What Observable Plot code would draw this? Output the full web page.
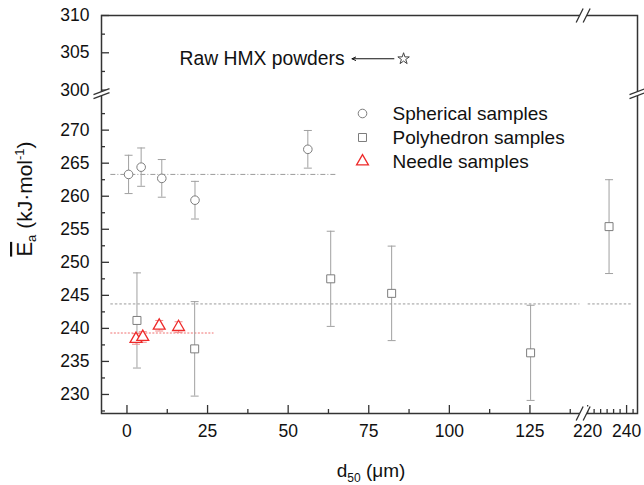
<!DOCTYPE html>
<html><head><meta charset="utf-8">
<script src="https://cdn.jsdelivr.net/npm/d3@7"></script>
<script src="https://cdn.jsdelivr.net/npm/@observablehq/plot@0.6"></script>
<style>body{margin:0;background:#fff} svg{display:block}</style>
</head><body><div id="chart"></div>
<script>
// ---------- data ----------
const seriesNames = ["Spherical samples", "Polyhedron samples", "Needle samples"];
const sphericalD50 = [0.5, 4.4, 10.8, 21.1, 56.1];
const sphericalEa  = [263.3, 264.4, 262.7, 259.4, 267.1];
const sphericalErr = [2.9, 2.9, 2.85, 2.85, 2.85];
const polyD50 = [3.1, 21.0, 63.2, 82.1, 125.2, 231.0];
const polyEa  = [241.2, 236.9, 247.5, 245.3, 236.3, 255.4];
const polyErr = [7.2, 7.15, 7.2, 7.15, 7.2, 7.1];
const needleD50 = [2.8, 4.9, 10.0, 16.0];
const needleEa  = [238.4, 238.7, 240.4, 240.2];
const needleErr = [0.8, 0.8, 0.8, 0.8];
const rawD50 = [85.8];
const rawEa  = [304.2];
const rawLabel = "Raw HMX powders";
// mean lines: series, value, from, to
const meanSeries = ["Spherical samples", "Polyhedron samples", "Polyhedron samples", "Needle samples"];
const meanEa   = [263.3, 243.7, 243.7, 239.3];
const meanFrom = [-5, -5, 220.3, -5];
const meanTo   = [65, 140.5, 242.5, 27];
const xTicksMajor = [0, 25, 50, 75, 100, 125, 220, 240];
const xTicksMinor = [12.5, 37.5, 62.5, 87.5, 112.5, 137.5, 223.33, 226.67, 230, 233.33, 236.67, 243.33];
const yTicksMajor = [230, 235, 240, 245, 250, 255, 260, 265, 270, 300, 305, 310];
const yTicksMinor = [227.5, 232.5, 237.5, 242.5, 247.5, 252.5, 257.5, 262.5, 267.5, 272.5, 302.5, 307.5];

// ---------- broken axes ----------
const X_BREAK = [141.5, 217.7], X_RATIO = 1.95 / 3.227;
const vx = v => v <= X_BREAK[0] ? v : X_BREAK[0] + (Math.max(v, X_BREAK[1]) - X_BREAK[1]) * X_RATIO;
const ivx = u => u <= X_BREAK[0] ? u : X_BREAK[1] + (u - X_BREAK[0]) / X_RATIO;
const Y_BREAK = [275, 300], Y_GAP = 1.06, Y_RATIO = 7.45 / 6.6;
const vy = v => v <= Y_BREAK[0] ? v : Y_BREAK[0] + Y_GAP + (v - Y_BREAK[1]) * Y_RATIO;
const ivy = u => u <= Y_BREAK[0] ? u : Y_BREAK[1] + (u - Y_BREAK[0] - Y_GAP) / Y_RATIO;

const mk = (name, xs, ys, es) => xs.map((d, i) => ({
  series: name, x: vx(d), y: vy(ys[i]), y1: vy(ys[i] - es[i]), y2: vy(ys[i] + es[i])
}));
const spherical = mk(seriesNames[0], sphericalD50, sphericalEa, sphericalErr);
const poly = mk(seriesNames[1], polyD50, polyEa, polyErr);
const needle = mk(seriesNames[2], needleD50, needleEa, needleErr);
const means = meanEa.map((v, i) => ({series: meanSeries[i], y: vy(v), x1: vx(meanFrom[i]), x2: vx(meanTo[i])}));
const raw = rawD50.map((d, i) => ({x: vx(d), y: vy(rawEa[i])}));

// ---------- custom symbols ----------
const capSym = {draw(c) { c.moveTo(-4, 0); c.lineTo(4, 0); }};
const slashHGap = {draw(c) { c.moveTo(-7, 7); c.lineTo(0, 7); c.lineTo(7, -7); c.lineTo(0, -7); c.closePath(); }};
const slashH = {draw(c) { c.moveTo(-7, 7); c.lineTo(0, -7); c.moveTo(0, 7); c.lineTo(7, -7); }};
const slashVGap = {draw(c) { c.moveTo(-8, 1); c.lineTo(8, -5); c.lineTo(8, -1); c.lineTo(-8, 5); c.closePath(); }};
const slashV = {draw(c) { c.moveTo(-8, 1); c.lineTo(8, -5); c.moveTo(-8, 5); c.lineTo(8, -1); }};

const W = 644, H = 485, mL = 101, mR = 7, mT = 15, mB = 72;
const fw = W - mL - mR, fh = H - mT - mB;
const frameCol = "#333";
const gray = "#7d7d7d", barGray = "#a0a0a0", red = "#ee2a2a", pink = "#f28a8a";
const colorOf = {"Spherical samples": gray, "Polyhedron samples": gray, "Needle samples": red};
const symOf = {"Spherical samples": "circle", "Polyhedron samples": "square", "Needle samples": "triangle"};
const rOf = {"Spherical samples": 4.3, "Polyhedron samples": 4.5, "Needle samples": 4.4};

const errMarks = (data, col) => [
  Plot.ruleX(data, {x: "x", y1: "y1", y2: "y2", stroke: col, strokeWidth: 1}),
  Plot.dot(data, {x: "x", y: "y1", symbol: capSym, r: 4, stroke: col, fill: "none", strokeWidth: 1}),
  Plot.dot(data, {x: "x", y: "y2", symbol: capSym, r: 4, stroke: col, fill: "none", strokeWidth: 1}),
];

const chart = Plot.plot({
  width: W, height: H,
  marginLeft: mL, marginRight: mR, marginTop: mT, marginBottom: mB,
  style: {fontFamily: "Liberation Sans, Arial, sans-serif", fontSize: "17px", color: "#222", background: "#fff"},
  x: {domain: [vx(-7.9), vx(245.6)]},
  y: {domain: [227.12, vy(310)]},
  marks: [
    // mean lines
    Plot.ruleY(means.filter(d => d.series === seriesNames[0]), {y: "y", x1: "x1", x2: "x2", stroke: "#9a9a9a", strokeWidth: 1, strokeDasharray: "5,2,1,2"}),
    Plot.ruleY(means.filter(d => d.series === seriesNames[1]), {y: "y", x1: "x1", x2: "x2", stroke: "#9a9a9a", strokeWidth: 1, strokeDasharray: "2.5,2"}),
    Plot.ruleY(means.filter(d => d.series === seriesNames[2]), {y: "y", x1: "x1", x2: "x2", stroke: "#f07070", strokeWidth: 1, strokeDasharray: "2,1.5"}),
    // error bars
    ...errMarks(spherical, barGray),
    ...errMarks(poly, barGray),
    ...errMarks(needle, pink),
    // points
    Plot.dot(spherical, {x: "x", y: "y", symbol: "circle", r: 4.3, stroke: gray, fill: "white", strokeWidth: 1}),
    Plot.dot(poly, {x: "x", y: "y", symbol: "square", r: 4.5, stroke: gray, fill: "white", strokeWidth: 1}),
    Plot.dot(needle, {x: "x", y: "y", symbol: "triangle", r: 4.4, stroke: red, fill: "white", strokeWidth: 1.3}),
    // raw HMX annotation
    Plot.dot(raw, {x: "x", y: "y", symbol: "star", r: 3.6, stroke: "#444", fill: "white", strokeWidth: 1}),
    Plot.arrow(raw, {x1: d => d.x - 3, x2: d => d.x - 16, y1: "y", y2: "y", stroke: "#111", strokeWidth: 1, headLength: 6, headAngle: 50}),
    Plot.text(raw, {x: d => d.x - 18.3, y: "y", text: () => rawLabel, textAnchor: "end", lineAnchor: "middle", fontSize: 19.3, fill: "#111"}),
    // ticks (inward)
    Plot.tickX(xTicksMajor, {x: vx, insetTop: fh - 8, stroke: frameCol, strokeWidth: 1.3}),
    Plot.tickX(xTicksMinor, {x: vx, insetTop: fh - 4, stroke: frameCol, strokeWidth: 1.3}),
    Plot.tickY(yTicksMajor, {y: vy, insetRight: fw - 8, stroke: frameCol, strokeWidth: 1.3}),
    Plot.tickY(yTicksMinor, {y: vy, insetRight: fw - 4, stroke: frameCol, strokeWidth: 1.3}),
    Plot.frame({stroke: frameCol, strokeWidth: 1.5}),
    // break marks
    Plot.dot([X_BREAK[0]], {x: d => d, frameAnchor: "bottom", symbol: slashHGap, fill: "white", stroke: "none", r: 5}),
    Plot.dot([X_BREAK[0]], {x: d => d, frameAnchor: "top", symbol: slashHGap, fill: "white", stroke: "none", r: 5}),
    Plot.dot([X_BREAK[0]], {x: d => d, frameAnchor: "bottom", symbol: slashH, fill: "none", stroke: frameCol, strokeWidth: 1.3, r: 5}),
    Plot.dot([X_BREAK[0]], {x: d => d, frameAnchor: "top", symbol: slashH, fill: "none", stroke: frameCol, strokeWidth: 1.3, r: 5}),
    Plot.dot([Y_BREAK[0] + Y_GAP / 2], {y: d => d, frameAnchor: "left", symbol: slashVGap, fill: "white", stroke: "none", r: 5}),
    Plot.dot([Y_BREAK[0] + Y_GAP / 2], {y: d => d, frameAnchor: "right", symbol: slashVGap, fill: "white", stroke: "none", r: 5}),
    Plot.dot([Y_BREAK[0] + Y_GAP / 2], {y: d => d, frameAnchor: "left", symbol: slashV, fill: "none", stroke: frameCol, strokeWidth: 1.3, r: 5}),
    Plot.dot([Y_BREAK[0] + Y_GAP / 2], {y: d => d, frameAnchor: "right", symbol: slashV, fill: "none", stroke: frameCol, strokeWidth: 1.3, r: 5}),
    // axes (labels only)
    Plot.axisX(xTicksMajor.map(vx), {tickSize: 0, tickPadding: 11, tickFormat: d => Math.round(ivx(d)), label: null, fill: "#111", fontSize: 17.5}),
    Plot.axisY(yTicksMajor.map(vy), {tickSize: 0, tickPadding: 12, tickFormat: d => Math.round(ivy(d)), label: null, fill: "#111", fontSize: 17.5}),
    // legend
    ...seriesNames.map((name, i) => Plot.dot([name], {frameAnchor: "top-left", dx: 261, dy: 98 + 24 * i, symbol: symOf[name], r: rOf[name], stroke: colorOf[name], fill: "white", strokeWidth: name === seriesNames[2] ? 1.3 : 1})),
    ...seriesNames.map((name, i) => Plot.text([name], {frameAnchor: "top-left", dx: 291, dy: 98 + 24 * i, text: d => d, textAnchor: "start", lineAnchor: "middle", fontSize: 19, fill: "#111"})),
  ]
});

const svg = d3.select(chart);
// make sure tick labels are large
svg.selectAll('g[aria-label*="axis"]').style("font-size", "17.5px");
svg.selectAll('g[aria-label*="axis"] text').style("font-size", "17.5px");
// x-axis title
const xt = svg.append("text").attr("x", 371).attr("y", 477).attr("text-anchor", "middle")
  .style("font-size", "19px").attr("fill", "#111");
xt.append("tspan").text("d");
xt.append("tspan").style("font-size", "12px").attr("dy", 5).text("50");
xt.append("tspan").attr("dy", -5).text(" (μm)");
// y-axis title
const yt = svg.append("text").attr("transform", "translate(32,199) rotate(-90)").attr("text-anchor", "middle")
  .style("font-size", "21px").attr("fill", "#111");
yt.append("tspan").attr("text-decoration", "overline").style("font-size", "22px").text("E");
yt.append("tspan").style("font-size", "13px").attr("dy", 4).text("a");
yt.append("tspan").attr("dy", -4).text(" (kJ·mol");
yt.append("tspan").style("font-size", "13px").attr("dy", -8).text("-1");
yt.append("tspan").attr("dy", 8).text(")");

document.getElementById("chart").append(chart);
</script>
</body></html>
